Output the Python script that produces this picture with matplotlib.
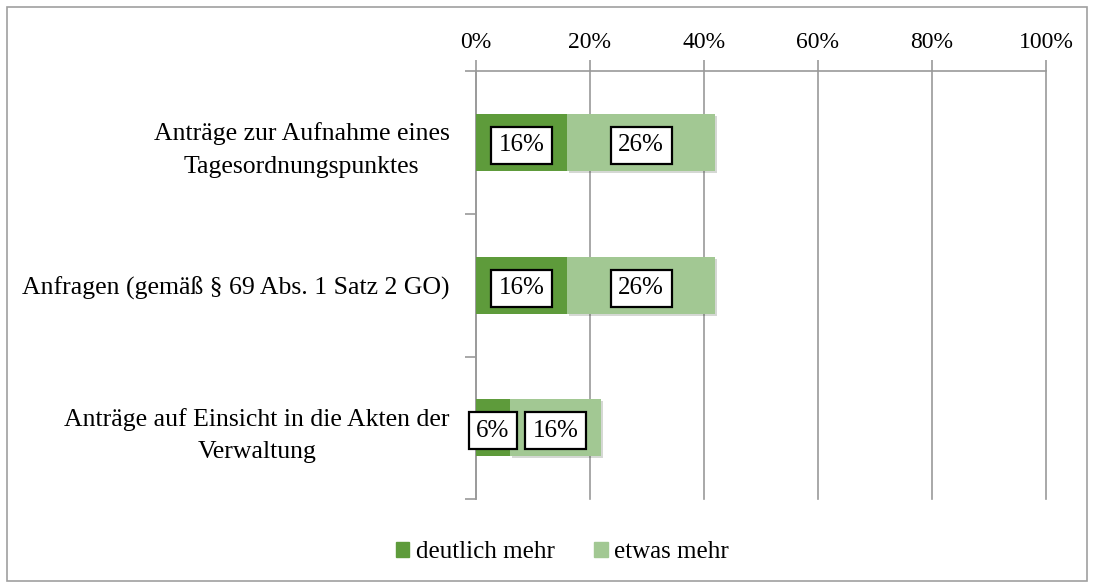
import matplotlib.pyplot as plt
import matplotlib.patheffects as pe
from matplotlib.patches import Rectangle, Patch

# --- Daten ---
kategorien = ['Anträge zur Aufnahme eines\nTagesordnungspunktes',
              'Anfragen (gemäß § 69 Abs. 1 Satz 2 GO)',
              'Anträge auf Einsicht in die Akten der\nVerwaltung']
deutlich_mehr = [16, 16, 6]
etwas_mehr = [26, 26, 16]
serien = ['deutlich mehr', 'etwas mehr']
x_ticks = [0, 20, 40, 60, 80, 100]

DUNKEL = '#5e9b3b'
HELL = '#a2c893'
GRAU = '#9a9a9a'

plt.rcParams['font.family'] = ['Liberation Serif', 'DejaVu Serif']

fig = plt.figure(figsize=(10.94, 5.88), dpi=100)
ax = fig.add_axes([0.435, 0.151, 0.521, 0.728])

# Rahmen um die ganze Grafik
fig.patches.append(Rectangle((0.006, 0.012), 0.988, 0.976, transform=fig.transFigure,
                             fill=False, edgecolor='#a0a0a0', linewidth=1.2))

y = list(range(len(kategorien)))
h = 0.4
schatten = [pe.SimplePatchShadow(offset=(1.5, -1.5), alpha=0.2), pe.Normal()]
b1 = ax.barh(y, deutlich_mehr, height=h, color=DUNKEL, zorder=3)
b2 = ax.barh(y, etwas_mehr, left=deutlich_mehr, height=h, color=HELL, zorder=3)
for p in b2:
    p.set_path_effects(schatten)

box = dict(boxstyle='square,pad=0.3', facecolor='white', edgecolor='black', linewidth=1.6)
for werte, links in ((deutlich_mehr, [0] * 3), (etwas_mehr, deutlich_mehr)):
    for i, (w, l) in enumerate(zip(werte, links)):
        ax.text(l + w / 2, i + 0.02, f'{w}%', ha='center', va='center', fontsize=18,
                bbox=box, zorder=5)

ax.set_xlim(0, 100)
ax.set_ylim(2.5, -0.5)
ax.set_xticks(x_ticks)
ax.set_xticklabels([f'{t}%' for t in x_ticks], fontsize=17)
ax.xaxis.tick_top()
ax.tick_params(axis='x', length=8, color=GRAU, width=1.2, pad=5)
for t in x_ticks:
    ax.axvline(t, color=GRAU, linewidth=1.2, zorder=0, clip_on=False)

ax.set_yticks(y)
ax.set_yticklabels(kategorien, fontsize=18.5, multialignment='center', linespacing=1.6)
ax.tick_params(axis='y', length=0, pad=19)
ax.set_yticks([-0.5, 0.5, 1.5, 2.5], minor=True)
ax.tick_params(axis='y', which='minor', length=8, color=GRAU, width=1.2)

for s in ('right', 'bottom'):
    ax.spines[s].set_visible(False)
for s in ('left', 'top'):
    ax.spines[s].set_color(GRAU)
    ax.spines[s].set_linewidth(1.2)

handles = [Patch(color=DUNKEL), Patch(color=HELL)]
fig.legend(handles=handles, labels=serien, loc='center', bbox_to_anchor=(0.514, 0.061),
           ncol=2, frameon=False, fontsize=18, handlelength=0.55, handleheight=0.55,
           handletextpad=0.25, columnspacing=1.6)

fig.savefig('out.png', dpi=100)
